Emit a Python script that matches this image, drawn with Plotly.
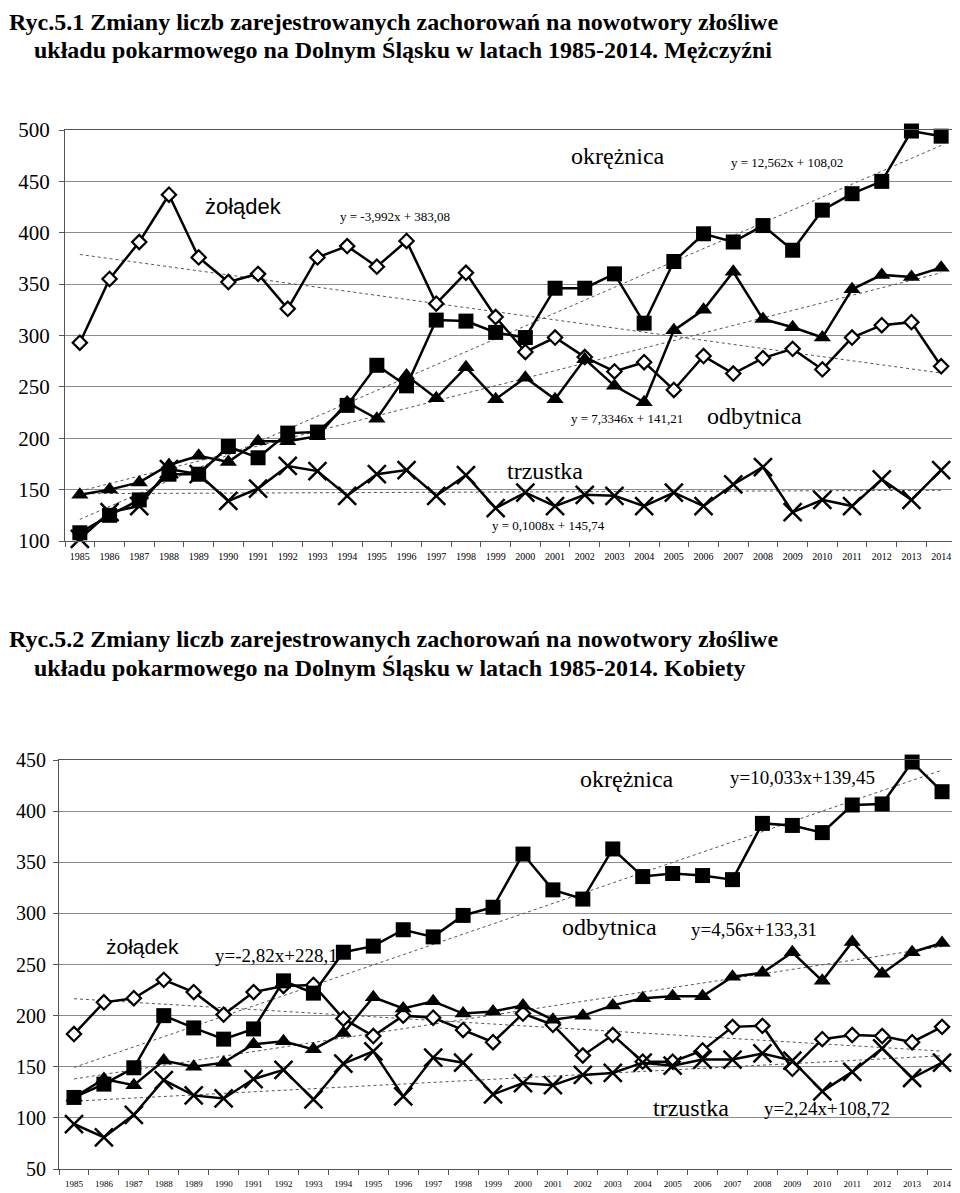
import numpy as np
import plotly.graph_objects as go

years = list(range(1985, 2015))
year_labels = [str(y) for y in years]

# Mężczyźni
men_zoladek = [293, 355, 391, 437, 376, 352, 360, 326, 376, 387, 367, 392, 331, 361, 318,
               284, 298, 279, 265, 274, 247, 280, 263, 278, 287, 267, 298, 310, 313, 270]
men_okreznica = [108, 125, 140, 165, 165, 192, 181, 205, 206, 232, 271, 251, 315, 314, 303,
                 298, 346, 346, 360, 312, 372, 399, 391, 407, 383, 422, 438, 450, 499, 494]
men_odbytnica = [145, 150, 157, 174, 183, 177, 197, 197, 202, 235, 219, 261, 239, 269, 238,
                 259, 238, 277, 251, 235, 305, 325, 362, 316, 308, 298, 345, 359, 357, 366]
men_trzustka = [102, 128, 134, 170, 165, 139, 151, 173, 168, 144, 165, 169, 144, 164, 132,
                147, 134, 145, 144, 134, 147, 134, 155, 172, 128, 140, 134, 160, 140, 169]

# Kobiety
women_zoladek = [182, 213, 217, 235, 223, 201, 223, 229, 230, 197, 180, 200, 198, 186, 174,
                 202, 191, 161, 181, 155, 155, 166, 189, 190, 148, 177, 181, 180, 174, 189]
women_okreznica = [120, 133, 149, 200, 188, 177, 187, 234, 222, 262, 268, 284, 277, 298, 306,
                   358, 323, 314, 363, 336, 339, 337, 333, 388, 386, 379, 406, 407, 448, 419]
women_odbytnica = [120, 138, 132, 156, 150, 154, 172, 175, 167, 183, 218, 207, 214, 202, 204,
                   210, 196, 200, 210, 217, 219, 219, 238, 242, 262, 234, 272, 241, 262, 271]
women_trzustka = [94, 81, 103, 137, 122, 119, 138, 147, 118, 153, 165, 121, 159, 154, 123,
                  134, 132, 142, 144, 154, 151, 157, 157, 163, 156, 126, 145, 168, 139, 154]

title1 = ["Ryc.5.1 Zmiany liczb zarejestrowanych zachorowań na nowotwory złośliwe",
          "układu pokarmowego na Dolnym Śląsku w latach 1985-2014. Mężczyźni"]
title2 = ["Ryc.5.2 Zmiany liczb zarejestrowanych zachorowań na nowotwory złośliwe",
          "układu pokarmowego na Dolnym Śląsku w latach 1985-2014. Kobiety"]

# page has an 8px body margin; the figure starts at (8, 8) in the window
OFF = 8
W, H = 960 - OFF, 1193 - OFF
SERIF = "Liberation Serif"
SANS = "Liberation Sans"

fig = go.Figure()

styles = {
    "zoladek": dict(symbol="diamond", size=11, color="white", line=dict(width=2.2, color="black")),
    "okreznica": dict(symbol="square", size=15, color="black"),
    "odbytnica": dict(symbol="triangle-up", size=15, color="black"),
    "trzustka": dict(symbol="x-thin-open", size=18, color="black", line=dict(width=2.5, color="black")),
}

def add_panel(series, xa, ya):
    idx = np.arange(1, len(years) + 1)
    for name, vals in series:
        coef = np.polyfit(idx, np.array(vals, dtype=float), 1)
        trend = np.polyval(coef, idx)
        fig.add_trace(go.Scatter(x=years, y=trend, mode="lines", xaxis=xa, yaxis=ya,
                                 line=dict(color="#555555", width=1, dash="dot"),
                                 hoverinfo="skip", showlegend=False))
    for name, vals in series:
        fig.add_trace(go.Scatter(x=years, y=vals, mode="lines+markers", name=name,
                                 xaxis=xa, yaxis=ya, cliponaxis=False,
                                 line=dict(color="black", width=2.5),
                                 marker=styles[name], showlegend=False))

add_panel([("zoladek", men_zoladek), ("okreznica", men_okreznica),
           ("odbytnica", men_odbytnica), ("trzustka", men_trzustka)], "x", "y")
add_panel([("zoladek", women_zoladek), ("okreznica", women_okreznica),
           ("odbytnica", women_odbytnica), ("trzustka", women_trzustka)], "x2", "y2")

def px_x(p):
    return (p - OFF) / W

def px_y(p):
    return 1 - (p - OFF) / H

grid = "#8c8c8c"
axis_common = dict(showline=True, linecolor="#555555", linewidth=1, mirror=True,
                   zeroline=False, automargin=False)

xminor = dict(tickvals=[y - 0.5 for y in years] + [2014.5], ticks="outside",
              ticklen=5, tickcolor="#555555", showgrid=False)

fig.update_layout(
    width=W, height=H,
    margin=dict(l=0, r=0, t=0, b=0),
    paper_bgcolor="white", plot_bgcolor="white",
    xaxis=dict(domain=[px_x(65), px_x(956)], anchor="y", range=[1984.5, 2014.5],
               tickvals=years, ticktext=year_labels, ticks="", showgrid=False,
               tickfont=dict(family=SERIF, size=10, color="black"),
               minor=xminor, ticklabelstandoff=6, **axis_common),
    yaxis=dict(domain=[px_y(541), px_y(130)], anchor="x", range=[100, 500], dtick=50,
               showgrid=True, gridcolor=grid, gridwidth=1, ticks="outside", ticklen=5,
               tickcolor="#555555", ticklabelstandoff=5,
               tickfont=dict(family=SERIF, size=21, color="black"), **axis_common),
    xaxis2=dict(domain=[px_x(59), px_x(957)], anchor="y2", range=[1984.5, 2014.5],
                tickvals=years, ticktext=year_labels, ticks="", showgrid=False,
                tickfont=dict(family=SERIF, size=9, color="black"),
                minor=xminor, ticklabelstandoff=6, **axis_common),
    yaxis2=dict(domain=[px_y(1169), px_y(760)], anchor="x2", range=[50, 450], dtick=50,
                showgrid=True, gridcolor=grid, gridwidth=1, ticks="outside", ticklen=5,
                tickcolor="#555555", ticklabelstandoff=3,
                tickfont=dict(family=SERIF, size=20, color="black"), **axis_common),
)

# white boxes hiding gridlines behind labels
boxes = [
    (187, 296, 176, 238), (65, 187, 205, 238),   # żołądek (M)
    (553, 686, 126, 186),                        # okrężnica (M)
    (563, 693, 755, 795),                        # okrężnica (K)
    (90, 200, 930, 969),                         # żołądek (K)
]
for x0, x1, y0, y1 in boxes:
    fig.add_shape(type="rect", xref="paper", yref="paper",
                  x0=px_x(x0), x1=px_x(x1), y0=px_y(y1), y1=px_y(y0),
                  fillcolor="white", line=dict(width=0), layer="between")

def label(text, x, y, family, size):
    fig.add_annotation(text=text, x=px_x(x), y=px_y(y), xref="paper", yref="paper",
                       showarrow=False, xanchor="center", yanchor="middle",
                       font=dict(family=family, size=size, color="black"))

# Mężczyźni labels
label("żołądek", 243, 206, SANS, 22)
label("y = -3,992x + 383,08", 395, 217, SERIF, 13)
label("okrężnica", 618, 156, SERIF, 24)
label("y = 12,562x + 108,02", 787, 162, SERIF, 13)
label("y = 7,3346x + 141,21", 627, 418, SERIF, 13)
label("odbytnica", 754, 416, SERIF, 24)
label("trzustka", 545, 471, SERIF, 24)
label("y = 0,1008x + 145,74", 548, 525, SERIF, 13)

# Kobiety labels
label("okrężnica", 627, 779, SERIF, 24)
label("y=10,033x+139,45", 802, 777, SERIF, 19)
label("żołądek", 142, 946, SANS, 21)
label("y=-2,82x+228,1", 276, 955, SERIF, 19)
label("odbytnica", 609, 927, SERIF, 24)
label("y=4,56x+133,31", 754, 929, SERIF, 19)
label("trzustka", 691, 1108, SERIF, 24)
label("y=2,24x+108,72", 827, 1108, SERIF, 19)

def title(lines, y1, y2, first_top=False):
    fig.add_annotation(text="<b>" + lines[0] + "</b>", x=px_x(OFF), y=px_y(y1), xref="paper",
                       yref="paper", showarrow=False, xanchor="left", borderpad=0,
                       yanchor="top" if first_top else "middle",
                       font=dict(family=SERIF, size=24, color="black"))
    fig.add_annotation(text="<b>" + lines[1] + "</b>", x=px_x(33), y=px_y(y2), xref="paper",
                       yref="paper", showarrow=False, xanchor="left", yanchor="middle",
                       borderpad=0, font=dict(family=SERIF, size=24, color="black"))

title(title1, OFF, 50, first_top=True)
title(title2, 639, 668)

fig.write_html("out.html")
